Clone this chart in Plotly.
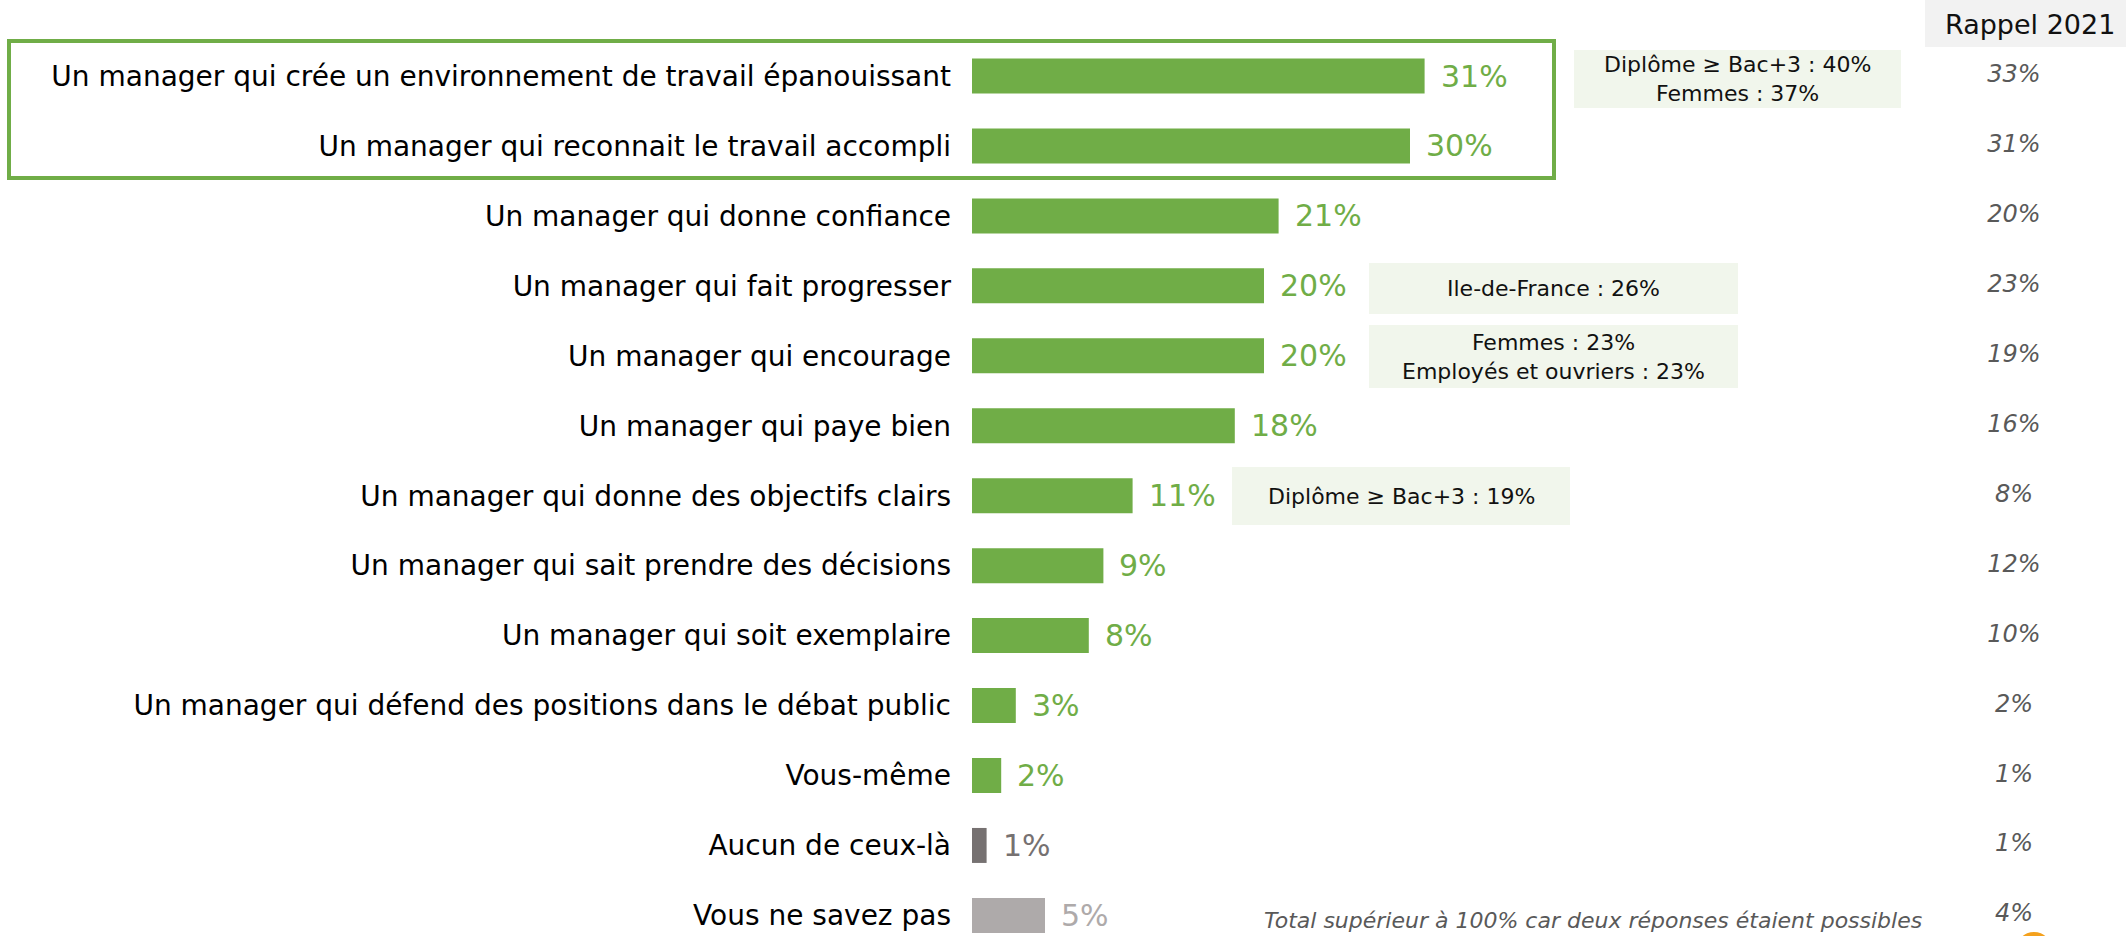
import plotly.graph_objects as go

W, H = 2126, 936

categories = [
    "Un manager qui crée un environnement de travail épanouissant",
    "Un manager qui reconnait le travail accompli",
    "Un manager qui donne confiance",
    "Un manager qui fait progresser",
    "Un manager qui encourage",
    "Un manager qui paye bien",
    "Un manager qui donne des objectifs clairs",
    "Un manager qui sait prendre des décisions",
    "Un manager qui soit exemplaire",
    "Un manager qui défend des positions dans le débat public",
    "Vous-même",
    "Aucun de ceux-là",
    "Vous ne savez pas",
]
values_2023 = [31, 30, 21, 20, 20, 18, 11, 9, 8, 3, 2, 1, 5]
rappel_2021 = ["33%", "31%", "20%", "23%", "19%", "16%", "8%", "12%", "10%", "2%", "1%", "1%", "4%"]

GREEN = "#70AD47"
DARK_GREY = "#767171"
LIGHT_GREY = "#AEAAAA"
bar_colors = [GREEN] * 11 + [DARK_GREY, LIGHT_GREY]

# callouts: (text, left, top, right, bottom) in pixels
callouts = [
    ("Diplôme ≥ Bac+3 : 40%<br>Femmes : 37%", 1574, 50, 1901, 108),
    ("Ile-de-France : 26%", 1369, 263, 1738, 314),
    ("Femmes : 23%<br>Employés et ouvriers : 23%", 1369, 325, 1738, 388),
    ("Diplôme ≥ Bac+3 : 19%", 1232, 467, 1570, 525),
]

FONT = "'DejaVu Sans', Verdana, sans-serif"


def px(x):
    return x / W


def py(y):
    return 1 - y / H


fig = go.Figure()

fig.add_trace(go.Bar(
    x=values_2023,
    y=categories,
    orientation="h",
    marker=dict(color=bar_colors, line=dict(width=0)),
    width=0.5,
    showlegend=False,
    hoverinfo="skip",
))

fig.add_trace(go.Scatter(
    x=[0.5] * len(categories),
    y=categories,
    mode="text",
    text=rappel_2021,
    textposition="middle center",
    textfont=dict(family=FONT, size=24, color="#595959", style="italic"),
    xaxis="x2",
    yaxis="y",
    showlegend=False,
    hoverinfo="skip",
))

annotations = []
for cat, val, col in zip(categories, values_2023, bar_colors):
    annotations.append(dict(
        x=val, y=cat, xref="x", yref="y",
        text=f"{val}%", showarrow=False,
        xanchor="left", yanchor="middle", xshift=14,
        font=dict(family=FONT, size=30, color=col),
    ))

shapes = []
for text, l, t, r, b in callouts:
    shapes.append(dict(type="rect", xref="paper", yref="paper",
                       x0=px(l), x1=px(r), y0=py(b), y1=py(t),
                       fillcolor="#F1F6EC", line=dict(width=0), layer="below"))
    annotations.append(dict(
        x=px((l + r) / 2), y=py((t + b) / 2), xref="paper", yref="paper",
        text=text, showarrow=False, xanchor="center", yanchor="middle",
        font=dict(family=FONT, size=22, color="#111111"),
    ))

# highlight frame around top two items
shapes.append(dict(type="rect", xref="paper", yref="paper",
                   x0=px(9), x1=px(1554), y0=py(178), y1=py(41),
                   line=dict(color=GREEN, width=4), fillcolor="rgba(0,0,0,0)"))
# header box
shapes.append(dict(type="rect", xref="paper", yref="paper",
                   x0=px(1925), x1=1, y0=py(47), y1=1,
                   fillcolor="#F2F2F2", line=dict(width=0), layer="below"))
annotations.append(dict(
    x=px(2030), y=py(24), xref="paper", yref="paper", text="Rappel 2021",
    showarrow=False, xanchor="center", yanchor="middle",
    font=dict(family=FONT, size=27, color="#111111"),
))
# footnote
annotations.append(dict(
    x=px(1262), y=py(920), xref="paper", yref="paper",
    text="Total supérieur à 100% car deux réponses étaient possibles",
    showarrow=False, xanchor="left", yanchor="middle",
    font=dict(family=FONT, size=22, color="#595959", style="italic"),
))
# orange decoration (partially visible)
shapes.append(dict(type="circle", xref="paper", yref="paper",
                   x0=px(2016), x1=px(2052), y0=py(968), y1=py(932),
                   fillcolor="#F4A11D", line=dict(width=0)))

PX_PER_PCT = 14.6
X0 = 972
row_top, row_step = 76.0, 69.95

fig.update_layout(
    width=W, height=H,
    margin=dict(l=0, r=0, t=0, b=0),
    paper_bgcolor="white", plot_bgcolor="rgba(0,0,0,0)",
    xaxis=dict(domain=[px(X0), 1], range=[0, (W - X0) / PX_PER_PCT],
               visible=False, showgrid=False, zeroline=False),
    xaxis2=dict(domain=[px(1924), px(2104)], range=[0, 1], anchor="y",
                visible=False, showgrid=False, zeroline=False),
    yaxis=dict(
        type="category", categoryorder="array", categoryarray=categories,
        range=[(H - row_top) / row_step, -row_top / row_step],
        showgrid=False, zeroline=False, showline=False, ticks="",
        ticklabelstandoff=20, automargin=False,
        tickfont=dict(family=FONT, size=28, color="#000000"),
    ),
    bargap=0.5,
    shapes=shapes,
    annotations=annotations,
)

fig.write_html(
    "out.html",
    config={"displayModeBar": False},
    post_script="document.body.style.margin='0';document.body.style.overflow='hidden';",
)
